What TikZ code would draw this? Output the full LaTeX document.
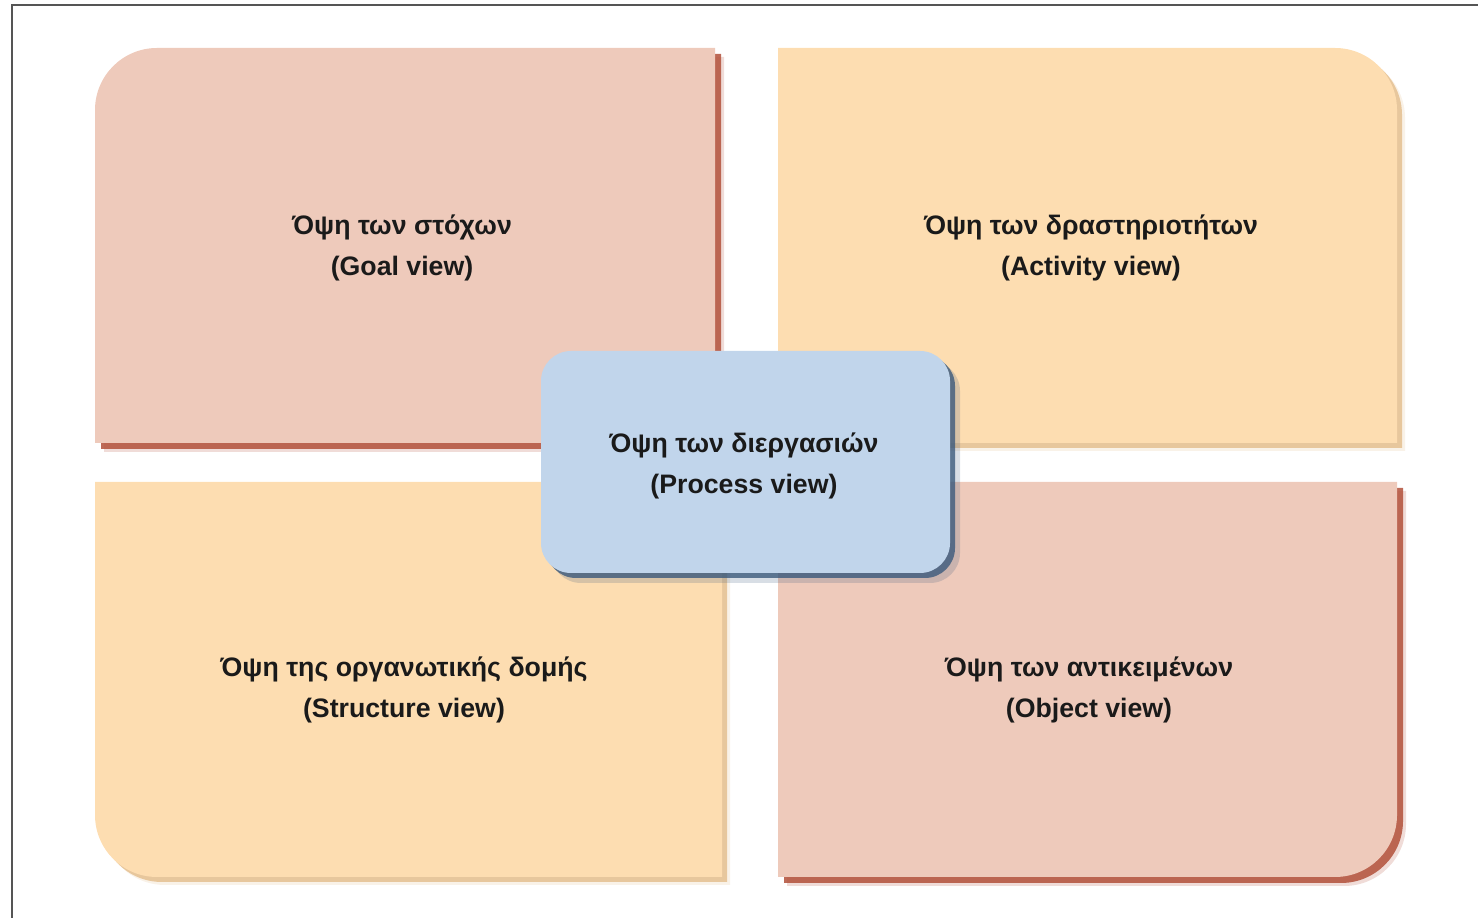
\documentclass[tikz,border=0pt]{standalone}
\usepackage{fontspec}
\setmainfont{Liberation Sans}
\usetikzlibrary{shadows}

\definecolor{pinkpanel}{HTML}{EECABB}
\definecolor{pinkshade}{HTML}{B2503A}
\definecolor{sandpanel}{HTML}{FDDDB1}
\definecolor{sandshade}{HTML}{E3BC8A}
\definecolor{bluepanel}{HTML}{C1D5EB}
\definecolor{blueshade}{HTML}{3B5A7C}
\definecolor{inkblack}{HTML}{1A1A1A}
\definecolor{framegray}{HTML}{555555}

\begin{document}
\begin{tikzpicture}[
  lbl/.style={font=\fontsize{7.6}{11.7}\selectfont\bfseries, align=center, text=inkblack},
  pinkbox/.style={fill=pinkpanel,
    drop shadow={shadow xshift=0.09cm, shadow yshift=-0.09cm, fill=pinkshade, opacity=0.2},
    drop shadow={shadow xshift=0.06cm, shadow yshift=-0.06cm, fill=pinkshade, opacity=0.85}},
  sandbox/.style={fill=sandpanel,
    drop shadow={shadow xshift=0.08cm, shadow yshift=-0.08cm, fill=sandshade, opacity=0.2},
    drop shadow={shadow xshift=0.05cm, shadow yshift=-0.05cm, fill=sandshade, opacity=0.8}},
  procbox/.style={fill=bluepanel, rounded corners=0.3cm, minimum width=4.09cm, minimum height=2.22cm,
    drop shadow={shadow xshift=0.1cm, shadow yshift=-0.1cm, fill=blueshade, opacity=0.2},
    drop shadow={shadow xshift=0.05cm, shadow yshift=-0.05cm, fill=blueshade, opacity=0.8}}
]
  \useasboundingbox (0,0) rectangle (14.78,9.18);
  \draw[framegray, line width=0.02cm] (0.12,0) -- (0.12,9.13) -- (14.78,9.13);

  % four views around the process
  \fill[pinkbox] (0.95,4.75) -- (0.95,8.08) arc[start angle=180, end angle=90, radius=0.62] -- (7.15,8.70) -- (7.15,4.75) -- cycle;
  \fill[sandbox] (7.78,4.75) -- (7.78,8.70) -- (13.35,8.70) arc[start angle=90, end angle=0, radius=0.62] -- (13.97,4.75) -- cycle;
  \fill[sandbox] (0.95,4.36) -- (0.95,1.03) arc[start angle=180, end angle=270, radius=0.62] -- (7.22,0.41) -- (7.22,4.36) -- cycle;
  \fill[pinkbox] (7.78,4.36) -- (13.97,4.36) -- (13.97,1.03) arc[start angle=0, end angle=-90, radius=0.62] -- (7.78,0.41) -- cycle;

  \node[lbl] (goal) at (4.02,6.70) {Όψη των στόχων\\(Goal view)};
  \node[lbl] (activity) at (10.91,6.70) {Όψη των δραστηριοτήτων\\(Activity view)};
  \node[lbl] (structure) at (4.04,2.28) {Όψη της οργανωτικής δομής\\(Structure view)};
  \node[lbl] (object) at (10.89,2.28) {Όψη των αντικειμένων\\(Object view)};

  \node[procbox] (process) at (7.455,4.56) {};
  \node[lbl] (proclbl) at (7.44,4.52) {Όψη των διεργασιών\\(Process view)};
\end{tikzpicture}
\end{document}
